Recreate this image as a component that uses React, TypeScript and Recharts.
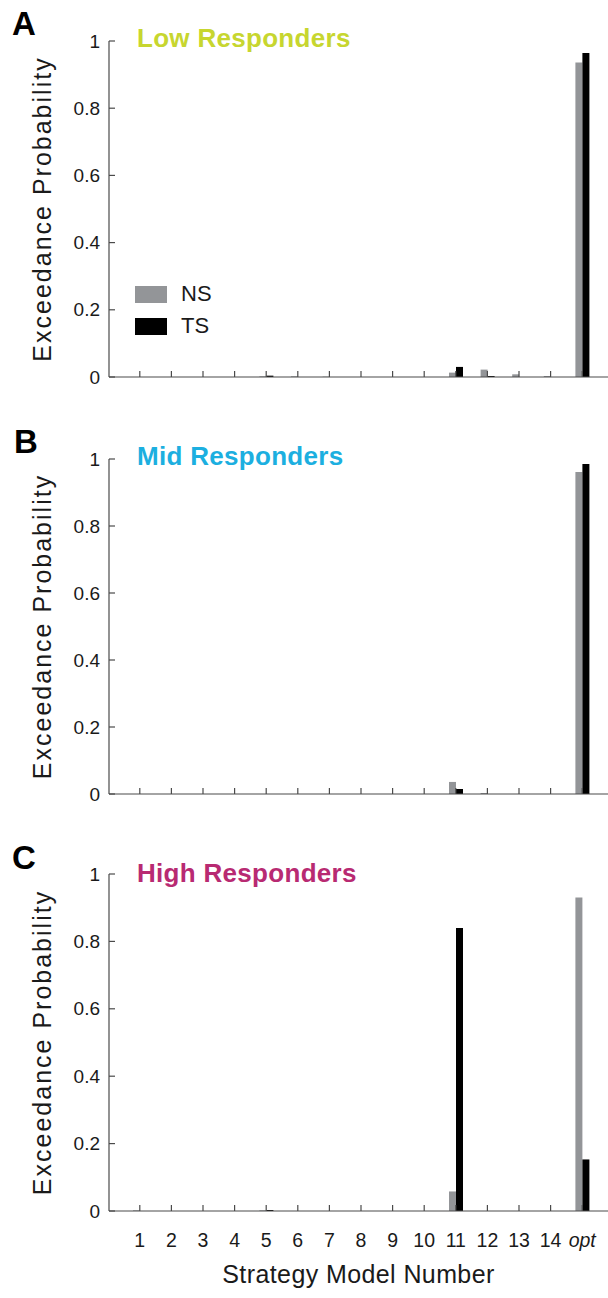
import { Bar, BarChart, Legend, XAxis, YAxis } from "recharts";

const models = ["1", "2", "3", "4", "5", "6", "7", "8", "9", "10", "11", "12", "13", "14", "opt"];
const yTicks = [0, 0.2, 0.4, 0.6, 0.8, 1];

// exceedance probabilities
const lowNS = [0, 0, 0, 0, 0.002, 0.002, 0.001, 0, 0, 0, 0.013, 0.022, 0.008, 0.003, 0.936];
const lowTS = [0, 0, 0, 0, 0.004, 0, 0, 0, 0, 0, 0.03, 0.003, 0, 0, 0.964];
const midNS = [0, 0, 0, 0, 0, 0, 0, 0, 0, 0, 0.036, 0.003, 0, 0, 0.961];
const midTS = [0, 0, 0, 0, 0, 0, 0, 0, 0, 0, 0.015, 0, 0, 0, 0.985];
const highNS = [0.002, 0, 0, 0, 0.002, 0, 0, 0, 0, 0, 0.058, 0, 0, 0, 0.93];
const highTS = [0, 0, 0, 0, 0.003, 0, 0, 0, 0, 0, 0.84, 0, 0, 0, 0.153];

const FONT = "'Liberation Sans', Arial, sans-serif";
const AXIS = "#4a4a4a";
const NS_COLOR = "#939598";
const TS_COLOR = "#000000";

function rows(ns: number[], ts: number[]) {
  return models.map((m, i) => ({ model: m, NS: ns[i], TS: ts[i] }));
}

function YTick({ x, y, payload }: any) {
  return (
    <g>
      <line x1={x + 9} x2={x + 15} y1={y} y2={y} stroke={AXIS} strokeWidth={1.2} />
      <text x={x} y={y} textAnchor="end" dominantBaseline="central" fontSize={19} fontFamily={FONT} fill="#1a1a1a">
        {payload.value}
      </text>
    </g>
  );
}

function makeXTick(showLabels: boolean) {
  return ({ x, y, payload }: any) => (
    <g>
      <line x1={x} x2={x} y1={y} y2={y - 6} stroke={AXIS} strokeWidth={1.2} />
      {showLabels && (
        <text
          x={x}
          y={y + 29}
          textAnchor="middle"
          dominantBaseline="central"
          fontSize={19.5}
          fontFamily={FONT}
          fontStyle={payload.value === "opt" ? "italic" : "normal"}
          fill="#1a1a1a"
        >
          {payload.value}
        </text>
      )}
    </g>
  );
}

function YLabel({ viewBox }: any) {
  const cy = viewBox.y + viewBox.height / 2;
  return (
    <text
      x={42}
      y={cy}
      transform={`rotate(-90, 42, ${cy})`}
      textAnchor="middle"
      dominantBaseline="central"
      fontSize={25}
      letterSpacing={2}
      fontFamily={FONT}
      fill="#1a1a1a"
    >
      Exceedance Probability
    </text>
  );
}

function LegendBox({ payload }: any) {
  return (
    <div style={{ fontFamily: FONT }}>
      {payload.map((p: any) => (
        <div key={p.value} style={{ display: "flex", alignItems: "center", height: 32 }}>
          <div style={{ width: 32, height: 17, background: p.color, marginRight: 14 }} />
          <span style={{ fontSize: 22, color: "#1a1a1a" }}>{p.value}</span>
        </div>
      ))}
    </div>
  );
}

function Panel({
  data,
  top,
  plotH,
  last,
  legend,
}: {
  data: any[];
  top: number;
  plotH: number;
  last?: boolean;
  legend?: boolean;
}) {
  const axisH = last ? 80 : 12;
  return (
    <div style={{ position: "absolute", left: 0, top: top - 10 }}>
      <BarChart
        width={608}
        height={10 + plotH + axisH}
        data={data}
        margin={{ top: 10, right: 0, bottom: 0, left: 0 }}
        barSize={7}
        barGap={0}
      >
        <XAxis
          dataKey="model"
          interval={0}
          height={axisH}
          padding={{ left: 15, right: 10 }}
          stroke={AXIS}
          strokeWidth={1.2}
          tickLine={false}
          tickSize={0}
          tickMargin={0}
          tick={makeXTick(!!last)}
          label={
            last
              ? {
                  value: "Strategy Model Number",
                  position: "insideBottom",
                  offset: 8,
                  fontSize: 25,
                  letterSpacing: 0.4,
                  fontFamily: FONT,
                  fill: "#1a1a1a",
                }
              : undefined
          }
        />
        <YAxis
          width={109}
          domain={[0, 1]}
          ticks={yTicks}
          interval={0}
          stroke={AXIS}
          strokeWidth={1.2}
          tickLine={false}
          tickSize={0}
          tickMargin={9}
          tick={<YTick />}
          label={<YLabel />}
        />
        {legend && (
          <Legend
            layout="vertical"
            align="center"
            verticalAlign="middle"
            content={<LegendBox />}
            wrapperStyle={{ left: 135, top: 254 - 7, width: 120 }}
          />
        )}
        <Bar dataKey="NS" fill={NS_COLOR} isAnimationActive={false} />
        <Bar dataKey="TS" fill={TS_COLOR} isAnimationActive={false} />
      </BarChart>
    </div>
  );
}

const letterStyle = {
  position: "absolute" as const,
  fontFamily: FONT,
  fontWeight: 700,
  fontSize: 33,
  lineHeight: 1,
  color: "#000",
};

const titleStyle = {
  position: "absolute" as const,
  left: 137,
  fontFamily: FONT,
  fontWeight: 700,
  fontSize: 26,
  letterSpacing: 0.3,
  lineHeight: 1,
};

export default function App() {
  return (
    <div style={{ position: "absolute", left: 0, top: 0, width: 608, height: 1298, background: "#fff" }}>
      <Panel data={rows(lowNS, lowTS)} top={41} plotH={336} legend />
      <Panel data={rows(midNS, midTS)} top={459} plotH={335} />
      <Panel data={rows(highNS, highTS)} top={874} plotH={337} last />

      <div style={{ ...letterStyle, left: 12, top: 7 }}>A</div>
      <div style={{ ...letterStyle, left: 14, top: 425 }}>B</div>
      <div style={{ ...letterStyle, left: 12, top: 841 }}>C</div>

      <div style={{ ...titleStyle, top: 25, color: "#c7d62f" }}>Low Responders</div>
      <div style={{ ...titleStyle, top: 443, color: "#1cafe0" }}>Mid Responders</div>
      <div style={{ ...titleStyle, top: 860, color: "#b82a72" }}>High Responders</div>
    </div>
  );
}
